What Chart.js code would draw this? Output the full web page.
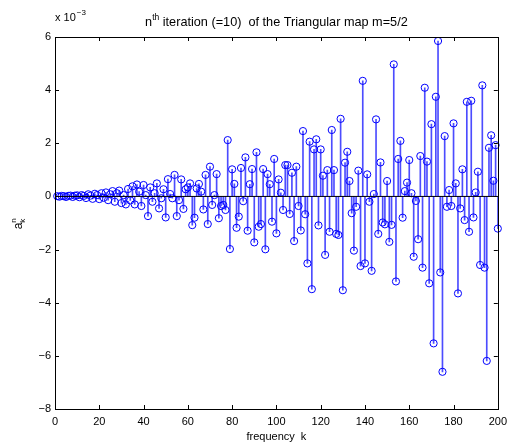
<!DOCTYPE html>
<html>
<head>
<meta charset="utf-8">
<script src="https://cdn.jsdelivr.net/npm/chart.js@4.4.1/dist/chart.umd.min.js"></script>
<style>
  body { margin: 0; background: #fff; }
  canvas { display: block; }
</style>
</head>
<body>
<canvas id="stemChart" width="513" height="446"></canvas>
<script>
// values of a_k^n in units of 1e-3, k = 1..200
const coeffs = [
  0.01, -0.01, 0.02, 0.01, -0.02, 0.02, 0.03, -0.02, 0.03, 0.04,
  -0.03, 0.05, 0.02, -0.06, 0.08, 0.03, -0.09, 0.10, 0.05, -0.10,
  0.12, -0.05, 0.15, -0.14, 0.08, 0.20, -0.20, 0.12, 0.22, -0.25,
  0.05, -0.30, 0.28, -0.15, 0.38, -0.30, 0.45, 0.18, -0.36, 0.43,
  0.05, -0.74, 0.34, -0.20, 0.12, 0.49, -0.45, -0.07, 0.27, -0.79,
  0.65, 0.09, -0.07, 0.81, -0.74, -0.14, 0.64, -0.47, 0.27, 0.34,
  0.49, -1.08, -0.80, 0.30, 0.47, 0.18, -0.49, 0.81, -1.04, 1.12,
  -0.32, 0.05, 0.84, -0.82, -0.36, -0.32, -0.51, 2.12, -1.98, 1.02,
  0.47, -1.18, -0.76, 1.07, -0.18, 1.47, -1.29, 0.46, 1.03, -1.73,
  1.66, -1.14, -1.04, 1.03, -1.99, 0.84, 0.46, -0.95, 1.41, -1.39,
  0.64, 0.14, -0.51, 1.18, 1.18, -0.66, 0.89, -1.68, 1.12, -0.36,
  -1.28, 2.46, -0.67, -2.52, 2.06, -3.49, 1.77, 2.15, -1.09, 1.77,
  0.78, -2.20, 0.99, -1.33, 2.50, 0.99, -1.41, -1.45, 2.92, -3.53,
  1.27, 1.68, 0.58, -0.63, -2.04, -0.39, 0.97, -2.62, 4.35, -2.52,
  0.83, -0.20, -2.80, 0.09, 2.90, -1.41, 1.28, -0.98, -1.05, 0.58,
  -1.71, -1.07, 4.97, -3.20, 1.41, 2.09, -0.80, 0.20, 0.52, 1.37,
  0.12, -2.27, -0.17, -1.61, 1.52, -2.68, 4.09, 1.31, -3.27, 2.72,
  -5.53, 3.75, 5.85, -2.86, -6.60, 2.27, -0.39, 0.24, -0.36, 2.75,
  0.49, -3.65, -0.45, 1.02, -0.89, 3.56, -1.33, 3.60, -0.79, 0.15,
  0.93, -2.58, 4.18, -2.68, -6.19, 1.83, 2.30, 0.59, 1.93, -1.21
];
const kValues = coeffs.map((_, i) => i + 1);
const xTicks = [0, 20, 40, 60, 80, 100, 120, 140, 160, 180, 200];
const yTicks = [-8, -6, -4, -2, 0, 2, 4, 6];

const points = kValues.map((k, i) => ({ x: k, y: coeffs[i] }));
const FONT = '"Liberation Sans", Arial, sans-serif';

// box, inward ticks and the text pieces with super/subscripts
const matlabFrame = {
  id: 'matlabFrame',
  afterDraw(chart) {
    const ctx = chart.ctx;
    const a = chart.chartArea;
    const xs = chart.scales.x, ys = chart.scales.y;
    ctx.save();
    ctx.strokeStyle = '#000';
    ctx.lineWidth = 1;
    ctx.strokeRect(Math.round(a.left) + 0.5, Math.round(a.top) + 0.5,
      Math.round(a.right - a.left), Math.round(a.bottom - a.top));
    ctx.beginPath();
    xTicks.forEach(t => {
      const px = Math.round(xs.getPixelForValue(t)) + 0.5;
      ctx.moveTo(px, a.bottom); ctx.lineTo(px, a.bottom - 4);
      ctx.moveTo(px, a.top); ctx.lineTo(px, a.top + 4);
    });
    yTicks.forEach(t => {
      const py = Math.round(ys.getPixelForValue(t)) + 0.5;
      ctx.moveTo(a.left, py); ctx.lineTo(a.left + 4, py);
      ctx.moveTo(a.right, py); ctx.lineTo(a.right - 4, py);
    });
    ctx.stroke();

    ctx.fillStyle = '#000';
    ctx.textBaseline = 'alphabetic';

    // title
    const big = '12.7px ' + FONT, small = '8.5px ' + FONT;
    const rest = ' iteration (=10)  of the Triangular map m=5/2';
    ctx.font = big;
    const wN = ctx.measureText('n').width, wRest = ctx.measureText(rest).width;
    ctx.font = small;
    const wTh = ctx.measureText('th').width;
    let tx = (a.left + a.right) / 2 - (wN + wTh + wRest) / 2;
    ctx.textAlign = 'left';
    ctx.font = big; ctx.fillText('n', tx, 26); tx += wN;
    ctx.font = small; ctx.fillText('th', tx, 20); tx += wTh;
    ctx.font = big; ctx.fillText(rest, tx, 26);

    // exponent label
    ctx.font = '11px ' + FONT;
    ctx.fillText('x 10', a.left, 21);
    const w10 = ctx.measureText('x 10').width;
    ctx.font = '8px ' + FONT;
    ctx.fillText('\u22123', a.left + w10 + 1, 15);

    // x label
    ctx.font = '11px ' + FONT;
    ctx.textAlign = 'center';
    ctx.fillText('frequency  k', (a.left + a.right) / 2, 440);

    // y label a_k^n
    ctx.translate(22, (a.top + a.bottom) / 2);
    ctx.rotate(-Math.PI / 2);
    ctx.textAlign = 'left';
    ctx.font = '12px ' + FONT;
    const wa = ctx.measureText('a').width;
    ctx.fillText('a', -wa / 2 - 3, 0);
    ctx.font = '8px ' + FONT;
    ctx.fillText('k', wa / 2 - 3, 3);
    ctx.fillText('n', wa / 2 - 3, -6);
    ctx.restore();
  }
};

new Chart(document.getElementById('stemChart'), {
  type: 'bar',
  data: {
    datasets: [
      {
        type: 'line',
        data: [{ x: 0, y: 0 }, { x: 200, y: 0 }],
        borderColor: '#000',
        borderWidth: 1,
        pointRadius: 0,
        order: 0
      },
      {
        type: 'scatter',
        data: points,
        pointRadius: 3.6,
        pointBorderWidth: 1,
        pointBorderColor: '#0000ff',
        pointBackgroundColor: 'rgba(0,0,0,0)',
        clip: false,
        order: 1
      },
      {
        type: 'bar',
        data: points,
        backgroundColor: 'rgba(0,0,255,0.7)',
        barThickness: 1,
        order: 2
      }
    ]
  },
  options: {
    responsive: false,
    animation: false,
    events: [],
    layout: { padding: { top: 37, right: 12, left: 0, bottom: 0 } },
    plugins: { legend: { display: false }, tooltip: { enabled: false } },
    scales: {
      x: {
        type: 'linear',
        min: 0,
        max: 200,
        offset: false,
        grid: { display: false, drawTicks: false, tickLength: 0 },
        border: { display: false },
        afterBuildTicks: s => { s.ticks = xTicks.map(v => ({ value: v })); },
        afterFit: s => { s.height = 37; },
        ticks: { color: '#000', font: { family: FONT, size: 11 }, padding: 6, maxRotation: 0 }
      },
      y: {
        min: -8,
        max: 6,
        grid: { display: false, drawTicks: false, tickLength: 0 },
        border: { display: false },
        afterBuildTicks: s => { s.ticks = yTicks.map(v => ({ value: v })); },
        afterFit: s => { s.width = 55; },
        ticks: {
          color: '#000',
          font: { family: FONT, size: 11 },
          padding: 4,
          callback: v => (v < 0 ? '\u2212' + Math.abs(v) : String(v))
        }
      }
    }
  },
  plugins: [matlabFrame]
});
</script>
</body>
</html>
